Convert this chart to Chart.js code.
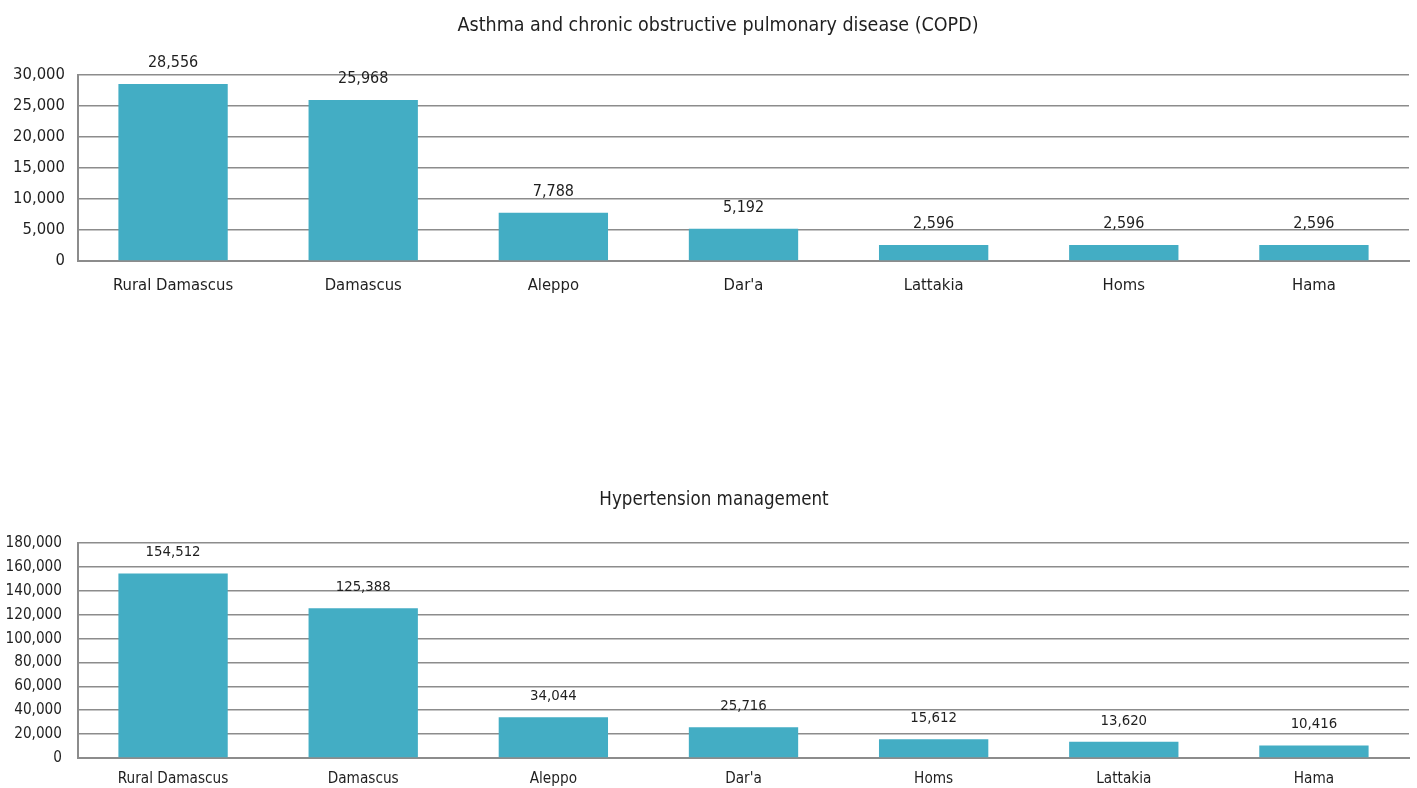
<!DOCTYPE html>
<html>
<head>
<meta charset="utf-8">
<script src="https://cdn.jsdelivr.net/npm/chart.js@4.4.1/dist/chart.umd.min.js"></script>
<style>
  body { margin: 0; background: #fff; width: 1417px; height: 788px; position: relative; overflow: hidden; }
  .box { position: absolute; left: 0; width: 1417px; }
  #copdBox { top: 0; height: 310px; }
  #htnBox { top: 470px; height: 318px; }
</style>
</head>
<body>
<div class="box" id="copdBox"><canvas id="copdChart"></canvas></div>
<div class="box" id="htnBox"><canvas id="htnChart"></canvas></div>
<script>
const FONT = "'Liberation Sans Narrow', 'DejaVu Sans Condensed', 'Roboto Condensed', sans-serif";
const BAR = '#43adc4';
const GRID = '#8c8c8c';
const TEXT = '#1f1f1f';

const copdLabels = ['Rural Damascus', 'Damascus', 'Aleppo', "Dar'a", 'Lattakia', 'Homs', 'Hama'];
const copdValues = [28556, 25968, 7788, 5192, 2596, 2596, 2596];
const copdTicks = [0, 5000, 10000, 15000, 20000, 25000, 30000];

const htnLabels = ['Rural Damascus', 'Damascus', 'Aleppo', "Dar'a", 'Homs', 'Lattakia', 'Hama'];
const htnValues = [154512, 125388, 34044, 25716, 15612, 13620, 10416];
const htnTicks = [0, 20000, 40000, 60000, 80000, 100000, 120000, 140000, 160000, 180000];

const fmt = v => v.toLocaleString('en-US');

// value labels above each bar, plus the chart title at the top
const decorations = {
  id: 'decorations',
  afterDatasetsDraw(chart, args, opts) {
    const ctx = chart.ctx;
    const meta = chart.getDatasetMeta(0);
    ctx.save();
    ctx.fillStyle = TEXT;
    ctx.textAlign = 'center';
    ctx.textBaseline = 'middle';
    ctx.font = opts.labelSize + 'px ' + FONT;
    meta.data.forEach((bar, i) => {
      ctx.fillText(fmt(chart.data.datasets[0].data[i]), bar.x, bar.y - opts.offset);
    });
    ctx.font = opts.titleSize + 'px ' + FONT;
    ctx.fillText(opts.title, opts.titleX, opts.titleY);
    ctx.restore();
  }
};

function makeChart(id, cfg) {
  return new Chart(document.getElementById(id), {
    type: 'bar',
    data: {
      labels: cfg.labels,
      datasets: [{
        data: cfg.values,
        backgroundColor: BAR,
        borderWidth: 0,
        categoryPercentage: 1,
        barPercentage: 0.575,
      }],
    },
    plugins: [decorations],
    options: {
      responsive: true,
      maintainAspectRatio: false,
      animation: false,
      layout: { padding: { top: cfg.padTop, left: 0, right: 8, bottom: 0 } },
      plugins: {
        legend: { display: false },
        tooltip: { enabled: false },
        title: { display: false },
        decorations: {
          title: cfg.title, titleX: cfg.titleX, titleY: cfg.titleY, titleSize: cfg.titleSize,
          labelSize: cfg.labelSize, offset: 21,
        },
      },
      scales: {
        x: {
          grid: { display: false, drawTicks: false },
          border: { color: GRID, width: 2 },
          ticks: { color: TEXT, font: { family: FONT, size: cfg.fontSize }, padding: cfg.xPad, maxRotation: 0 },
          afterFit: s => { s.height = cfg.xHeight; },
        },
        y: {
          min: 0,
          max: cfg.ticks[cfg.ticks.length - 1],
          afterBuildTicks: s => { s.ticks = cfg.ticks.map(v => ({ value: v })); },
          grid: { color: GRID, lineWidth: 1.5, drawTicks: false },
          border: { color: GRID, width: 2 },
          ticks: { color: TEXT, font: { family: FONT, size: cfg.fontSize }, padding: cfg.yPad, callback: v => fmt(v) },
          afterFit: s => { s.width = 78; },
        },
      },
    },
  });
}

makeChart('copdChart', {
  labels: copdLabels, values: copdValues, ticks: copdTicks,
  title: 'Asthma and chronic obstructive pulmonary disease (COPD)', titleX: 718, titleY: 26, titleSize: 19.5,
  padTop: 75, xHeight: 49, xPad: 15, yPad: 13, fontSize: 16.5, labelSize: 16,
});

makeChart('htnChart', {
  labels: htnLabels, values: htnValues, ticks: htnTicks,
  title: 'Hypertension management', titleX: 714, titleY: 30, titleSize: 18.6,
  padTop: 73, xHeight: 30, xPad: 12, yPad: 16, fontSize: 15.2, labelSize: 14.8,
});
</script>
</body>
</html>
